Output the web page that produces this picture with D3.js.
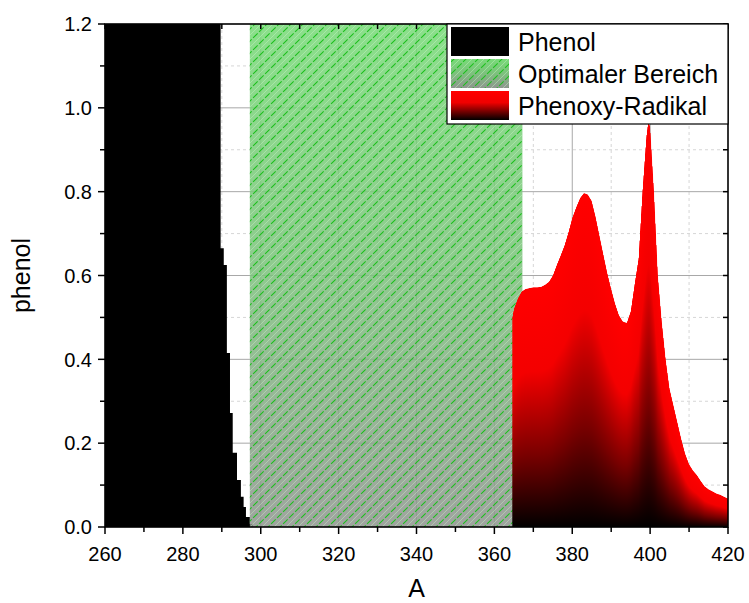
<!DOCTYPE html>
<html><head><meta charset="utf-8">
<script src="https://cdn.jsdelivr.net/npm/d3@7"></script>
<style>
body{margin:0;background:#fff}
svg{display:block;font-family:"Liberation Sans",Arial,sans-serif}
</style>
</head><body>
<svg id="chart" width="749" height="603"></svg>
<script>
// ---------- data ----------
const xTicks = [260, 280, 300, 320, 340, 360, 380, 400, 420];
const yTicks = [0.0, 0.2, 0.4, 0.6, 0.8, 1.0, 1.2];
const xTitle = "A";
const yTitle = "phenol";
const legendLabels = ["Phenol", "Optimaler Bereich", "Phenoxy-Radikal"];

// Phenol absorbance (step curve, clipped above 1.2)
const phenolWavelength = [260, 289.7, 290.5, 291.3, 292.1, 292.8, 293.9, 294.9, 295.6, 296.2, 297.2, 298.0];
const phenolAbsorbance = [1.5, 0.665, 0.625, 0.415, 0.272, 0.177, 0.112, 0.072, 0.048, 0.024, 0.007, 0.0];

// Optimal range band
const optimalRange = [297.2, 367.2];
const optimalHeight = 1.2;

// Phenoxy radical absorbance
const radicalWavelength = [364.6, 365, 366, 367, 368, 369, 370, 371, 372, 373, 374, 375, 376, 377, 378, 379, 380,
  381, 382, 383, 384, 385, 386, 387, 388, 389, 390, 391, 392, 393, 394, 395, 396, 397, 398, 399, 399.5, 400,
  401, 402, 403, 404, 405, 406, 407, 408, 409, 410, 411, 412, 413, 414, 415, 416, 417, 418, 419, 420];
const radicalAbsorbance = [0.50, 0.52, 0.545, 0.562, 0.568, 0.570, 0.572, 0.572, 0.573, 0.578, 0.585, 0.600, 0.625, 0.648, 0.672, 0.703, 0.738,
  0.763, 0.785, 0.797, 0.793, 0.778, 0.740, 0.695, 0.650, 0.606, 0.568, 0.533, 0.505, 0.490, 0.487, 0.515, 0.580, 0.640, 0.800, 0.930, 0.968, 0.955,
  0.800, 0.600, 0.490, 0.400, 0.330, 0.290, 0.250, 0.210, 0.175, 0.150, 0.135, 0.124, 0.110, 0.097, 0.090, 0.085, 0.080, 0.077, 0.072, 0.068];

// ---------- layout ----------
const W = 749, H = 603;
const m = {left: 105, right: 21, top: 24, bottom: 76};
const pw = W - m.left - m.right, ph = H - m.top - m.bottom;

const svg = d3.select("#chart");
const defs = svg.append("defs");

const x = d3.scaleLinear().domain([260, 420]).range([0, pw]);
const y = d3.scaleLinear().domain([0, 1.2]).range([ph, 0]);

const g = svg.append("g").attr("transform", `translate(${m.left},${m.top})`);

defs.append("clipPath").attr("id", "plotClip")
  .append("rect").attr("x", 0).attr("y", 0).attr("width", pw).attr("height", ph);

// gradients
const gGreen = defs.append("linearGradient").attr("id", "gradGreen")
  .attr("x1", 0).attr("y1", 0).attr("x2", 0).attr("y2", 1);
gGreen.append("stop").attr("offset", 0).attr("stop-color", "#78da78");
gGreen.append("stop").attr("offset", 0.45).attr("stop-color", "#7cc47c");
gGreen.append("stop").attr("offset", 1).attr("stop-color", "#909590");

const gRed = defs.append("linearGradient").attr("id", "gradRed")
  .attr("x1", 0).attr("y1", 0).attr("x2", 0).attr("y2", 1);
gRed.append("stop").attr("offset", 0).attr("stop-color", "#ff0000");
gRed.append("stop").attr("offset", 0.35).attr("stop-color", "#f40000");
gRed.append("stop").attr("offset", 0.7).attr("stop-color", "#780000");
gRed.append("stop").attr("offset", 1).attr("stop-color", "#000000");

const gRedLeg = defs.append("linearGradient").attr("id", "gradRedLeg")
  .attr("x1", 0).attr("y1", 0).attr("x2", 0).attr("y2", 1);
gRedLeg.append("stop").attr("offset", 0).attr("stop-color", "#ff0000");
gRedLeg.append("stop").attr("offset", 0.4).attr("stop-color", "#f00000");
gRedLeg.append("stop").attr("offset", 1).attr("stop-color", "#000000");

const hatch = defs.append("pattern").attr("id", "hatch")
  .attr("patternUnits", "userSpaceOnUse").attr("width", 12).attr("height", 12);
hatch.append("path").attr("d", "M-3,3 L3,-3 M0,12 L12,0 M9,15 L15,9")
  .attr("stroke", "#c6f4c6").attr("stroke-width", 0.6).attr("opacity", 0.75);
hatch.append("path").attr("d", "M-3,9 L9,-3 M3,15 L15,3")
  .attr("stroke", "#1cbf1c").attr("stroke-width", 1.1).attr("stroke-dasharray", "8,2");

// ---------- grid ----------
const grid = g.append("g");
const minorX = d3.range(270, 420, 20);
const minorY = d3.range(0.1, 1.2, 0.2);
grid.selectAll(".mx").data(minorX).join("line")
  .attr("x1", d => x(d)).attr("x2", d => x(d)).attr("y1", 0).attr("y2", ph)
  .attr("stroke", "#d6d6d6").attr("stroke-dasharray", "3,3");
grid.selectAll(".my").data(minorY).join("line")
  .attr("y1", d => y(d)).attr("y2", d => y(d)).attr("x1", 0).attr("x2", pw)
  .attr("stroke", "#d6d6d6").attr("stroke-dasharray", "3,3");
grid.selectAll(".gx").data(xTicks.slice(1, -1)).join("line")
  .attr("x1", d => x(d)).attr("x2", d => x(d)).attr("y1", 0).attr("y2", ph)
  .attr("stroke", "#a8a8a8");
grid.selectAll(".gy").data(yTicks.slice(1, -1)).join("line")
  .attr("y1", d => y(d)).attr("y2", d => y(d)).attr("x1", 0).attr("x2", pw)
  .attr("stroke", "#a8a8a8");

const plot = g.append("g").attr("clip-path", "url(#plotClip)");

// ---------- phenol ----------
const phenolData = phenolWavelength.map((w, i) => ({w, a: phenolAbsorbance[i]}));
plot.append("path").datum(phenolData)
  .attr("d", d3.area().curve(d3.curveStepAfter).x(d => x(d.w)).y0(y(0)).y1(d => y(d.a)))
  .attr("fill", "#000");

// ---------- optimal range ----------
const band = plot.append("g");
band.append("rect")
  .attr("x", x(optimalRange[0])).attr("width", x(optimalRange[1]) - x(optimalRange[0]))
  .attr("y", y(optimalHeight)).attr("height", y(0) - y(optimalHeight))
  .attr("fill", "url(#gradGreen)").attr("opacity", 0.86);
band.append("rect")
  .attr("x", x(optimalRange[0])).attr("width", x(optimalRange[1]) - x(optimalRange[0]))
  .attr("y", y(optimalHeight)).attr("height", y(0) - y(optimalHeight))
  .attr("fill", "url(#hatch)");

// ---------- phenoxy radical ----------
const radData = radicalWavelength.map((w, i) => ({w, a: radicalAbsorbance[i]}));
const radArea = d3.area().x(d => x(d.w)).y0(y(0)).y1(d => y(d.a));
defs.append("clipPath").attr("id", "radClip").append("path").datum(radData).attr("d", radArea);
const radInterp = d3.scaleLinear().domain(radicalWavelength).range(radicalAbsorbance);
const colPx = d3.range(Math.floor(x(radicalWavelength[0])), Math.ceil(x(radicalWavelength[radicalWavelength.length - 1])), 1);
const colVal = d => radInterp(Math.min(Math.max(x.invert(d + 0.5), radicalWavelength[0]), 420));
const radG = plot.append("g").attr("clip-path", "url(#radClip)");
radG.selectAll("rect").data(colPx).join("rect")
  .attr("x", d => d).attr("width", 1.3)
  .attr("y", d => y(colVal(d)))
  .attr("height", d => y(0) - y(colVal(d)) + 0.5)
  .attr("fill", "url(#gradRed)");

// ---------- frame & ticks ----------
const frame = g.append("g");
frame.append("rect").attr("x", 0).attr("y", 0).attr("width", pw).attr("height", ph)
  .attr("fill", "none").attr("stroke", "#000").attr("stroke-width", 1.6);

const xMinorAll = d3.range(260, 421, 10);
const yMinorAll = d3.range(0, 1.21, 0.1);
frame.selectAll(".bt").data(xMinorAll).join("line")
  .attr("x1", d => x(d)).attr("x2", d => x(d)).attr("y1", ph).attr("y2", d => ph + (d % 20 === 0 ? 7 : 5))
  .attr("stroke", "#000").attr("stroke-width", 1.5);
frame.selectAll(".tt").data(xMinorAll).join("line")
  .attr("x1", d => x(d)).attr("x2", d => x(d)).attr("y1", 0).attr("y2", 5)
  .attr("stroke", "#000").attr("stroke-width", 1.5);
frame.selectAll(".lt").data(yMinorAll).join("line")
  .attr("y1", d => y(d)).attr("y2", d => y(d)).attr("x1", 0).attr("x2", (d, i) => i % 2 === 0 ? -7 : -5)
  .attr("stroke", "#000").attr("stroke-width", 1.5);
frame.selectAll(".rt").data(yMinorAll).join("line")
  .attr("y1", d => y(d)).attr("y2", d => y(d)).attr("x1", pw).attr("x2", pw - 5)
  .attr("stroke", "#000").attr("stroke-width", 1.5);

// tick labels
g.selectAll(".xl").data(xTicks).join("text")
  .attr("x", d => x(d)).attr("y", ph + 34)
  .attr("text-anchor", "middle").attr("font-size", 20).attr("fill", "#000")
  .text(d => d);
g.selectAll(".yl").data(yTicks).join("text")
  .attr("x", -13).attr("y", d => y(d)).attr("dy", "0.36em")
  .attr("text-anchor", "end").attr("font-size", 20).attr("fill", "#000")
  .text(d => d.toFixed(1));

// axis titles
g.append("text").attr("x", pw / 2).attr("y", ph + 70).attr("text-anchor", "middle")
  .attr("font-size", 25).text(xTitle);
g.append("text").attr("transform", `translate(${-75},${ph / 2}) rotate(-90)`)
  .attr("text-anchor", "middle").attr("font-size", 25).text(yTitle);

// ---------- legend ----------
const lg = svg.append("g").attr("transform", "translate(447,24)");
lg.append("rect").attr("x", 0).attr("y", 0).attr("width", 281).attr("height", 100)
  .attr("fill", "#fff").attr("stroke", "#000").attr("stroke-width", 1.2);
const swFills = ["#000", null, "url(#gradRedLeg)"];
legendLabels.forEach((lab, i) => {
  const yy = 3 + i * 32;
  if (i === 1) {
    lg.append("rect").attr("x", 4).attr("y", yy).attr("width", 58).attr("height", 29)
      .attr("fill", "url(#gradGreen)");
    lg.append("rect").attr("x", 4).attr("y", yy).attr("width", 58).attr("height", 29)
      .attr("fill", "url(#hatch)");
  } else {
    lg.append("rect").attr("x", 4).attr("y", yy).attr("width", 58).attr("height", 29)
      .attr("fill", swFills[i]);
  }
  lg.append("text").attr("x", 71).attr("y", yy + 24).attr("font-size", 25).text(lab);
});
</script>
</body></html>
